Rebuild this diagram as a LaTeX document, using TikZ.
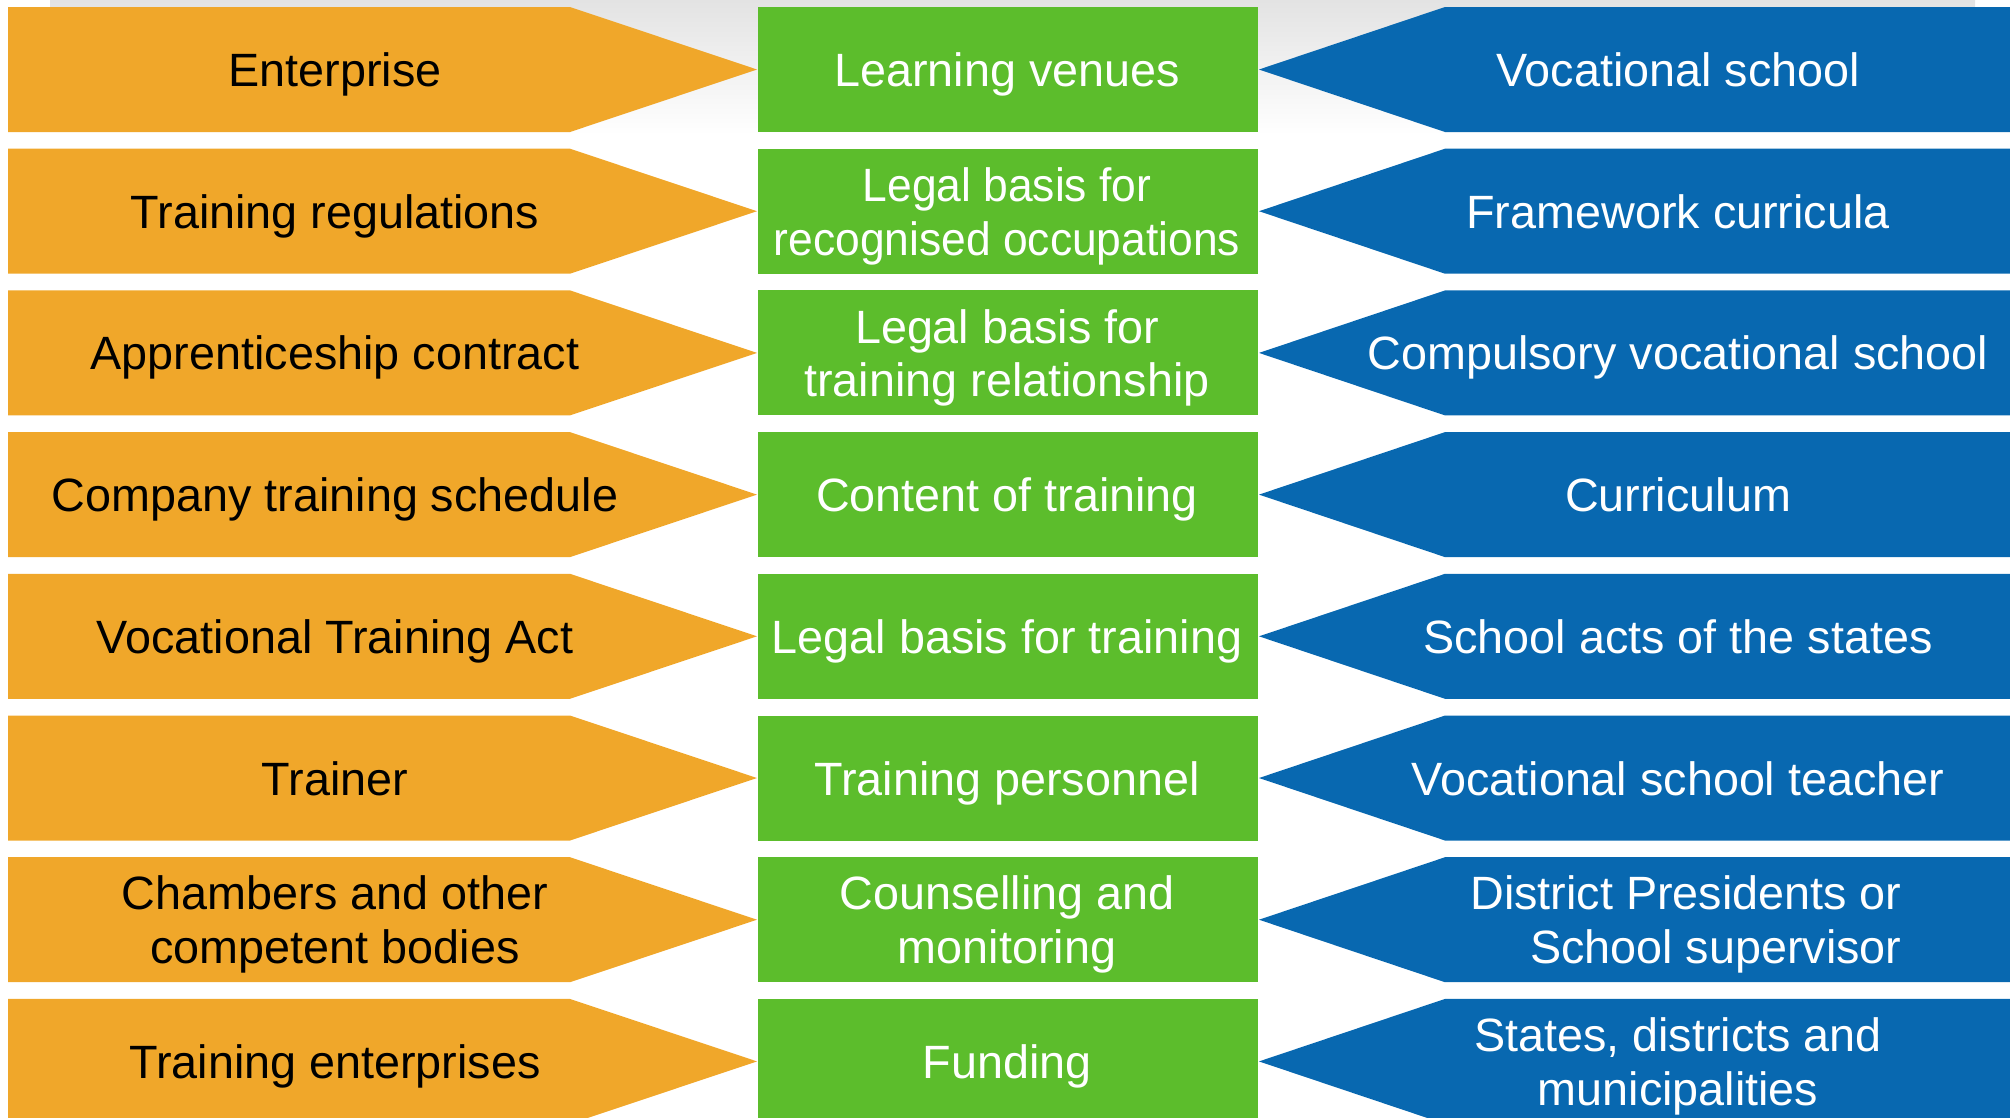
\documentclass[tikz,border=0pt]{standalone}
\usepackage{fontspec}
\setmainfont{Liberation Sans}
\newfontfamily\narrowfont[FakeStretch=0.95]{Liberation Sans}
\definecolor{dualorange}{RGB}{240,167,42}
\definecolor{dualgreen}{RGB}{92,189,44}
\definecolor{dualblue}{RGB}{8,104,176}

\begin{document}
\begin{tikzpicture}[x=0.02cm, y=-0.02cm,
  txt/.style={inner sep=0pt, font=\fontsize{26.6}{30.7}\selectfont,
    execute at begin node={\vphantom{Eg}}, execute at end node={\vphantom{g}}}]
  \useasboundingbox (0,0) rectangle (2010,1117);
  \shade[top color=gray!22, bottom color=white] (50,0) rectangle (1975,135);
  \foreach \i/\l/\m/\r/\al in {
      0/Enterprise/Learning venues/Vocational school/center,
      1/Training regulations/{\narrowfont Legal basis for\\\narrowfont recognised occupations}/Framework curricula/center,
      2/Apprenticeship contract/Legal basis for\\training relationship/Compulsory vocational school/center,
      3/Company training schedule/Content of training/Curriculum/center,
      4/Vocational Training Act/Legal basis for training/School acts of the states/center,
      5/Trainer/Training personnel/Vocational school teacher/center,
      6/Chambers and other\\competent bodies/Counselling and\\monitoring/District Presidents or\\School supervisor/right,
      7/Training enterprises/Funding/{States, districts and\\municipalities}/center}{
    \pgfmathsetmacro\rtop{7+141.7*\i}
    \pgfmathsetmacro\rmid{\rtop+62.5}
    \pgfmathsetmacro\rbot{\rtop+125}
    \pgfmathsetmacro\bx{\i==6 ? 1686 : 1678}
    \fill[dualorange] (8,\rtop) -- (570,\rtop) -- (757,\rmid) -- (570,\rbot) -- (8,\rbot) -- cycle;
    \fill[dualgreen] (758,\rtop) rectangle (1258,\rbot);
    \fill[dualblue] (2010,\rtop) -- (1445,\rtop) -- (1259,\rmid) -- (1445,\rbot) -- (2010,\rbot) -- cycle;
    \node[txt, align=center] (firm\i) at (335,\rmid+5) {\l};
    \node[txt, align=center, white] (topic\i) at (1007,\rmid+5) {\m};
    \node[txt, align=\al, white] (school\i) at (\bx,\rmid+5) {\r};
  }
\end{tikzpicture}
\end{document}
